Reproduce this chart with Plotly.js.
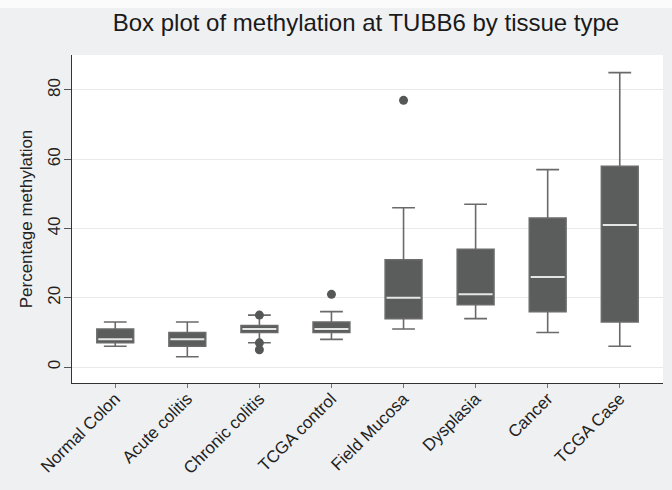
<!DOCTYPE html>
<html>
<head>
<meta charset="utf-8">
<script src="https://cdn.plot.ly/plotly-3.0.1.min.js"></script>
<style>html,body{margin:0;padding:0;background:#eff0f2;}#chart{width:672px;height:490px;}</style>
</head>
<body>
<div id="chart"></div>
<script>
const categories = ["Normal Colon", "Acute colitis", "Chronic colitis", "TCGA control", "Field Mucosa", "Dysplasia", "Cancer", "TCGA Case"];
const lowerWhisker = [6, 3, 7, 8, 11, 14, 10, 6];
const q1Values = [7, 6, 10, 10, 14, 18, 16, 13];
const medianValues = [8, 8, 11, 11, 20, 21, 26, 41];
const q3Values = [11, 10, 12, 13, 31, 34, 43, 58];
const upperWhisker = [13, 13, 15, 16, 46, 47, 57, 85];
const outlierCategories = ["Chronic colitis", "Chronic colitis", "Chronic colitis", "TCGA control", "Field Mucosa"];
const outlierValues = [15, 7, 5, 21, 77];

const boxTrace = {
  type: "box",
  x: categories,
  q1: q1Values,
  median: medianValues,
  q3: q3Values,
  lowerfence: lowerWhisker,
  upperfence: upperWhisker,
  boxpoints: false,
  width: 0.51,
  whiskerwidth: 0.62,
  fillcolor: "#5b5d5d",
  line: {color: "#6a6a6a", width: 1.6},
  hoverinfo: "skip"
};
const medianTrace = {
  type: "box",
  x: categories,
  q1: medianValues,
  median: medianValues,
  q3: medianValues,
  lowerfence: medianValues,
  upperfence: medianValues,
  boxpoints: false,
  width: 0.47,
  whiskerwidth: 0,
  fillcolor: "rgba(0,0,0,0)",
  line: {color: "#e4e6e6", width: 2},
  hoverinfo: "skip"
};
const outlierTrace = {
  type: "scatter",
  mode: "markers",
  x: outlierCategories,
  y: outlierValues,
  marker: {color: "#555757", size: 9},
  hoverinfo: "skip"
};

const layout = {
  width: 672, height: 490,
  paper_bgcolor: "#eff0f2",
  plot_bgcolor: "#ffffff",
  showlegend: false,
  boxmode: "overlay",
  margin: {l: 72, r: 9, t: 55, b: 107},
  font: {family: "Liberation Sans, Arial, sans-serif", color: "#222"},
  title: {
    text: "Box plot of methylation at TUBB6 by tissue type",
    font: {size: 24, color: "#1a1a1a"},
    x: 0.5446, xanchor: "center", y: 0.953, yanchor: "middle"
  },
  shapes: [{
    type: "rect", xref: "paper", yref: "paper",
    x0: -0.2, x1: 1.1, y0: 1.143, y1: 1.2,
    fillcolor: "#fbfbfb", line: {width: 0}, layer: "below"
  }],
  xaxis: {
    type: "category",
    categoryorder: "array",
    categoryarray: categories,
    range: [-0.6, 7.6],
    tickangle: -45,
    ticks: "outside", ticklen: 4, tickcolor: "#777",
    ticklabelstandoff: -6,
    showline: true, linecolor: "#333", linewidth: 1.2,
    showgrid: false, zeroline: false,
    tickfont: {size: 17, color: "#222"}
  },
  yaxis: {
    range: [-4.6, 90.1],
    tickvals: [0, 20, 40, 60, 80],
    tickangle: -90,
    ticks: "outside", ticklen: 7, tickcolor: "#555",
    ticklabelstandoff: -3,
    showline: true, linecolor: "#333", linewidth: 1.2,
    showgrid: true, gridcolor: "#e8e9ea", gridwidth: 1,
    zeroline: false,
    tickfont: {size: 17, color: "#222"},
    title: {text: "Percentage methylation", font: {size: 17, color: "#222"}, standoff: 8}
  }
};

Plotly.newPlot("chart", [boxTrace, medianTrace, outlierTrace], layout, {displayModeBar: false, staticPlot: true});
</script>
</body>
</html>
